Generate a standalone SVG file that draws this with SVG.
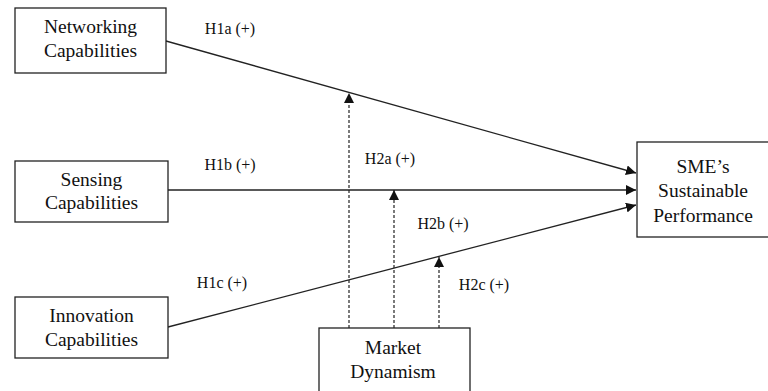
<svg xmlns="http://www.w3.org/2000/svg" width="768" height="391" viewBox="0 0 768 391">
<style>
.box{fill:#fff;stroke:#222;stroke-width:1.3}
.t{font-family:"Liberation Serif","Times New Roman",serif;font-size:19.5px;fill:#111;text-anchor:middle}
.l{font-family:"Liberation Serif","Times New Roman",serif;font-size:16px;fill:#111;text-anchor:middle}
.c{fill:none;stroke:#222;stroke-width:1.3}
.d{fill:none;stroke:#222;stroke-width:1.2;stroke-dasharray:3,2}
</style>
<defs>
<marker id="ah" viewBox="0 0 10 10" refX="10" refY="5" markerWidth="10" markerHeight="10" markerUnits="userSpaceOnUse" orient="auto">
<path d="M0,0 L10,5 L0,10 Z" fill="#111"/>
</marker>
</defs>
<rect width="768" height="391" fill="#fff"/>
<g id="connectors">
<line class="c" x1="166" y1="41" x2="636" y2="173" marker-end="url(#ah)"/>
<line class="c" x1="168" y1="190" x2="636" y2="190" marker-end="url(#ah)"/>
<line class="c" x1="168" y1="327" x2="636" y2="205" marker-end="url(#ah)"/>
<line class="d" x1="349" y1="328" x2="349" y2="93" marker-end="url(#ah)"/>
<line class="d" x1="394" y1="328" x2="394" y2="190" marker-end="url(#ah)"/>
<line class="d" x1="439" y1="328" x2="439" y2="257" marker-end="url(#ah)"/>
<text class="l" x="230" y="34">H1a (+)</text>
<text class="l" x="230" y="170">H1b (+)</text>
<text class="l" x="222" y="288">H1c (+)</text>
<text class="l" x="390" y="164">H2a (+)</text>
<text class="l" x="443" y="229">H2b (+)</text>
<text class="l" x="484" y="290">H2c (+)</text>
</g>
<g id="networking">
<rect class="box" x="15" y="8" width="151" height="65"/>
<text class="t" x="90.5" y="33">Networking</text>
<text class="t" x="90.5" y="57">Capabilities</text>
</g>
<g id="sensing">
<rect class="box" x="15" y="161" width="153" height="61"/>
<text class="t" x="91.5" y="186">Sensing</text>
<text class="t" x="91.5" y="209">Capabilities</text>
</g>
<g id="innovation">
<rect class="box" x="15" y="297" width="153" height="61"/>
<text class="t" x="91.5" y="322">Innovation</text>
<text class="t" x="91.5" y="346">Capabilities</text>
</g>
<g id="sme">
<rect class="box" x="637" y="142" width="140" height="95"/>
<text class="t" x="703" y="173">SME’s</text>
<text class="t" x="703" y="197">Sustainable</text>
<text class="t" x="703" y="222">Performance</text>
</g>
<g id="market">
<rect class="box" x="319" y="328" width="151" height="80"/>
<text class="t" x="393" y="354">Market</text>
<text class="t" x="393" y="378">Dynamism</text>
</g>
</svg>
